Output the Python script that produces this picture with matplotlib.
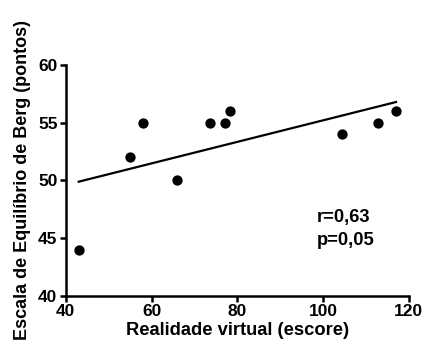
import numpy as np
import matplotlib
matplotlib.use("Agg")
import matplotlib.pyplot as plt

plt.rcParams['font.family'] = ['Liberation Sans', 'DejaVu Sans']

x_vals = [43, 55, 58, 66, 73.6, 77, 78.2, 104.4, 112.9, 117]
y_vals = [44, 52, 55, 50, 55, 55, 56, 54, 55, 56]
x_ticks = [40, 60, 80, 100, 120]
y_ticks = [40, 45, 50, 55, 60]
stats_text = "r=0,63\np=0,05"

fig = plt.figure(figsize=(4.22, 3.47), dpi=100)
ax = fig.add_axes([0.156, 0.147, 0.813, 0.666])

ax.scatter(x_vals, y_vals, s=55, color='black', zorder=3, linewidths=0)
slope, intercept = np.polyfit(x_vals, y_vals, 1)
xl = np.array([min(x_vals), max(x_vals)])
ax.plot(xl, slope * xl + intercept, color='black', lw=1.6)

ax.set_xlim(40, 120)
ax.set_ylim(40, 60)
ax.set_xticks(x_ticks)
ax.set_yticks(y_ticks)
for s in ['top', 'right']:
    ax.spines[s].set_visible(False)
for s in ['left', 'bottom']:
    ax.spines[s].set_linewidth(1.8)
ax.tick_params(width=1.8, length=4, labelsize=12.5, pad=2)
for lab in ax.get_xticklabels() + ax.get_yticklabels():
    lab.set_fontweight('bold')

ax.set_xlabel("Realidade virtual (escore)", fontsize=13.2, fontweight='bold', labelpad=2)
ax.set_ylabel("Escala de Equilíbrio de Berg (pontos)", fontsize=13, fontweight='bold', labelpad=5)

ax.text(98.5, 45.8, stats_text, fontsize=13.2, fontweight='bold', va='center', ha='left', linespacing=1.4)

fig.savefig("out.png", dpi=100)
